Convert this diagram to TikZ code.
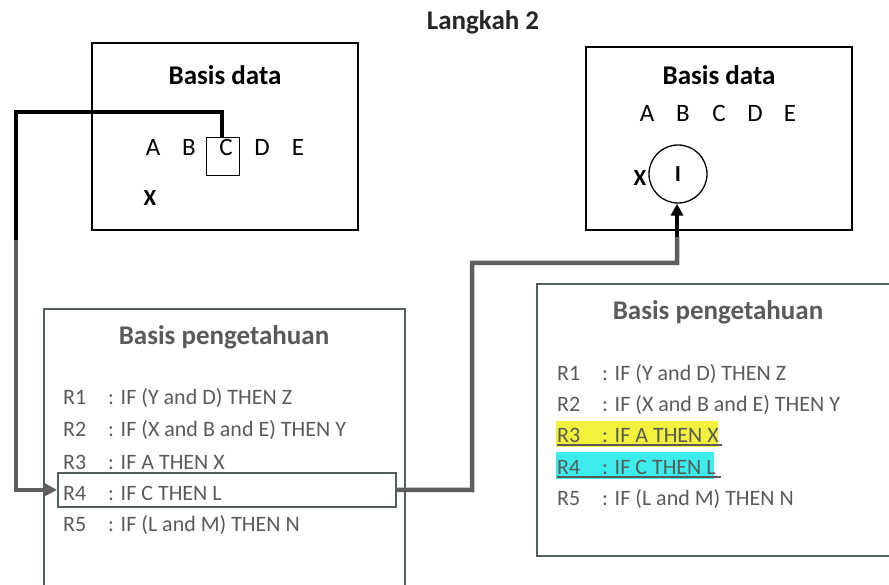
\documentclass[tikz,border=0pt]{standalone}
\usepackage{fontspec}
\setmainfont{Carlito}
\usetikzlibrary{arrows.meta}
\definecolor{txtgray}{HTML}{5A5A5A}
\definecolor{boxgray}{HTML}{55605B}
\definecolor{linegray}{HTML}{5E5E5E}
\definecolor{hlyellow}{HTML}{F2F23C}
\definecolor{hlcyan}{HTML}{3CECEC}
\tikzset{
  dbbox/.style={draw=black, line width=1.5pt, inner sep=0pt, outer sep=0pt, anchor=north west},
  kbbox/.style={draw=boxgray, line width=1.6pt, inner sep=0pt, outer sep=0pt, anchor=north west},
  boxtitle/.style={font=\fontsize{27}{31}\selectfont\bfseries, inner sep=0pt},
  letter/.style={font=\fontsize{25}{29}\selectfont, inner sep=0pt},
  rule/.style={font=\fontsize{22}{26}\selectfont, text=txtgray, inner sep=0pt, anchor=base west},
  blackconn/.style={draw=black, line width=4.5pt},
  grayconn/.style={draw=linegray, line width=4.5pt},
  tip/.style={-{Triangle[length=12pt,width=12pt]}}
}
\begin{document}
\begin{tikzpicture}[x=1pt,y=-1pt]
\useasboundingbox (0,0) rectangle (889,585);

% title
\node[boxtitle, text=black!85] (title) at (483,22) {Langkah 2};

% ---------- left data base ----------
\node[dbbox, minimum width=266pt, minimum height=187pt] (db1) at (92,43) {};
\node[boxtitle] (db1t) at (225,75) {Basis data};
\node[letter] (a1) at (153,147) {A};
\node[letter] (b1) at (189,147) {B};
\node[letter] (c1) at (226,147) {C};
\node[letter] (d1) at (262,147) {D};
\node[letter] (e1) at (298,147) {E};
\node[draw=black, line width=1.3pt, minimum width=33pt, minimum height=38pt, inner sep=0pt, anchor=north west] (cbox) at (206,137) {};
\node[letter, font=\fontsize{23}{27}\selectfont\bfseries] (x1) at (150,198) {X};

% ---------- right data base ----------
\node[dbbox, minimum width=266pt, minimum height=183pt] (db2) at (586,47) {};
\node[boxtitle] (db2t) at (719,75) {Basis data};
\node[letter] (a2) at (647,113) {A};
\node[letter] (b2) at (683,113) {B};
\node[letter] (c2) at (719,113) {C};
\node[letter] (d2) at (755,113) {D};
\node[letter] (e2) at (790,113) {E};
\node[circle, draw=black, line width=1.3pt, minimum size=58pt, inner sep=0pt, font=\fontsize{23}{27}\selectfont\bfseries] (circ) at (678,174) {\raisebox{-4pt}{I}};
\node[letter, font=\fontsize{23}{27}\selectfont\bfseries] (x2) at (640,178) {X};

% ---------- left knowledge base ----------
\node[kbbox, minimum width=361pt, minimum height=320pt] (kb1) at (44,309) {};
\node[boxtitle, text=txtgray] (kb1t) at (224,337) {Basis pengetahuan};
\node[rule] (l1) at (63,404) {\makebox[45pt][l]{R1}: IF (Y and D) THEN Z};
\node[rule] (l2) at (63,436) {\makebox[45pt][l]{R2}: IF (X and B and E) THEN Y};
\node[rule] (l3) at (63,469) {\makebox[45pt][l]{R3}: IF A THEN X};
\node[rule] (l4) at (63,500) {\makebox[45pt][l]{R4}: IF C THEN L};
\node[rule] (l5) at (63,531) {\makebox[45pt][l]{R5}: IF (L and M) THEN N};
\node[draw=boxgray, line width=1.6pt, minimum width=338pt, minimum height=34pt, inner sep=0pt, anchor=north west] (r4box) at (57,472) {};

% ---------- right knowledge base ----------
\node[kbbox, minimum width=370pt, minimum height=272pt] (kb2) at (537,284) {};
\node[boxtitle, text=txtgray] (kb2t) at (718,312) {Basis pengetahuan};
\fill[hlyellow] (556,421) rectangle (718,447);
\fill[hlcyan] (556,452) rectangle (714,479);
\node[rule] (m1) at (557,380) {\makebox[45pt][l]{R1}: IF (Y and D) THEN Z};
\node[rule] (m2) at (557,411) {\makebox[45pt][l]{R2}: IF (X and B and E) THEN Y};
\node[rule] (m3) at (557,442) {\makebox[45pt][l]{R3}: IF A THEN X};
\node[rule] (m4) at (557,474) {\makebox[45pt][l]{R4}: IF C THEN L};
\node[rule] (m5) at (557,505) {\makebox[45pt][l]{R5}: IF (L and M) THEN N};
\draw[txtgray, line width=1.2pt] (m3.base west) ++(0,3) -- ++(165,0);
\draw[txtgray, line width=1.2pt] (m4.base west) ++(0,3) -- ++(164,0);

% ---------- connectors ----------
\coordinate (k1) at (16,240);
\coordinate (k0) at (222,112);
\draw[blackconn] (cbox.north -| k0) -- (k0) -- (16,112) -- (k1);
\draw[grayconn, tip] (k1) |- (r4box.west);

\coordinate (k2) at (677,237);
\draw[grayconn] (r4box.east) -- (472,490) -- (472,263) -- (677,263) -- (k2);
\draw[blackconn, tip] (k2) -- (circ.south -| k2);
\end{tikzpicture}
\end{document}
